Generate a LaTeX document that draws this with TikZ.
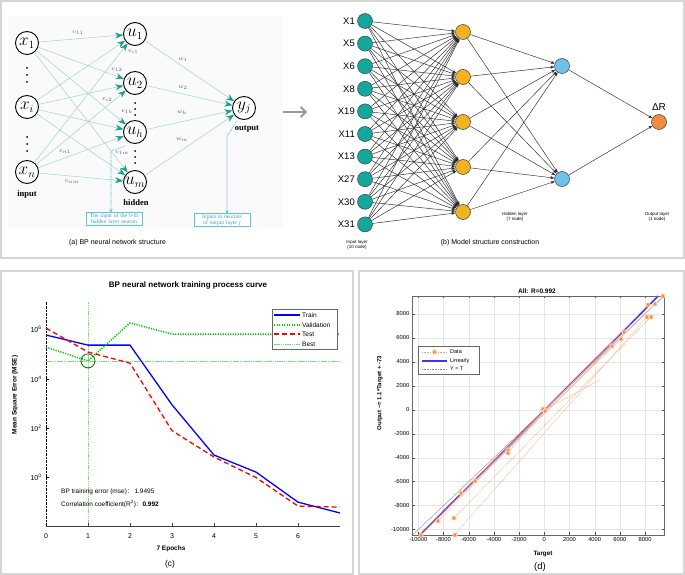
\documentclass[tikz,border=0pt]{standalone}
\usepackage{fontspec}
\setmainfont{Liberation Sans}
\newfontfamily\serifx{Liberation Serif}
\newfontfamily\cjkf{Noto Sans CJK SC}
\usetikzlibrary{arrows.meta}
\newcommand\fsz[1]{\fontsize{#1}{#1}\selectfont}
\definecolor{tline}{HTML}{9DD6CA}
\definecolor{thead}{HTML}{13A08A}
\definecolor{callblue}{HTML}{3AAEE0}
\definecolor{bteal}{HTML}{14A89C}
\definecolor{byellow}{HTML}{F2B322}
\definecolor{bblue}{HTML}{6EC1E8}
\definecolor{borange}{HTML}{F08C3C}
\definecolor{mblue}{HTML}{0000FF}
\definecolor{mred}{HTML}{FF0000}
\definecolor{mgreen}{HTML}{00CC00}
\definecolor{bestg}{HTML}{7ADB7A}
\definecolor{dgreen}{HTML}{117711}
\definecolor{dorange}{HTML}{F47C3C}
\definecolor{linblue}{HTML}{4A33F0}
\definecolor{framec}{HTML}{D6D6D6}
\begin{document}
\begin{tikzpicture}[x=1pt,y=-1pt,
  frame/.style={draw=framec,line width=1.2pt},
  acirc/.style={circle,draw,line width=0.9pt,fill=white,minimum size=23pt,inner sep=0pt,font=\fsz{16}},
  aedge/.style={draw=tline,line width=0.5pt,-{Stealth[length=8pt,width=6pt,color=thead]}},
  vlab/.style={font=\fsz{6.5},text=black!65,inner sep=0.5pt},
  albl/.style={font=\serifx\bfseries\fsz{8.5}},
  callout/.style={draw=callblue,line width=0.6pt,dash pattern=on 0.8pt off 0.8pt,-{Stealth[length=3pt,width=3pt]}},
  calbox/.style={draw=callblue!80,line width=0.4pt,text=callblue!90!black,font=\serifx\fsz{5.6},align=center,inner sep=1.2pt,fill=white,text width=53pt},
  bnode/.style={circle,draw=black!75,line width=0.5pt,minimum size=15pt,inner sep=0pt},
  bedge/.style={draw=black!85,line width=0.45pt,-{Stealth[length=4pt,width=3pt]}},
  blab/.style={font=\fsz{9.5},anchor=east,inner sep=0pt},
  lyrlab/.style={font=\fsz{4.5},align=center,inner sep=0pt},
  capt/.style={font=\fsz{7},inner sep=0pt},
  ctick/.style={font=\fsz{7},inner sep=0pt},
  trainln/.style={draw=mblue,line width=1.3pt},
  testln/.style={draw=mred,line width=1.3pt,dash pattern=on 5pt off 3pt},
  valln/.style={draw=mgreen,line width=1.5pt,dash pattern=on 1.2pt off 1.3pt},
  bestln/.style={draw=bestg,line width=0.45pt,dash pattern=on 1.5pt off 0.7pt},
  clegt/.style={font=\fsz{6.5},anchor=west,inner sep=0pt},
  gridc/.style={draw=black!10,line width=0.4pt},
  tickc/.style={draw=black!70,line width=0.4pt},
  dtick/.style={font=\fsz{5.8},inner sep=0pt},
  dlegt/.style={font=\fsz{5.5},anchor=west,inner sep=0pt},
  ast/.pic={\fill[orange!25] (0,0) circle (2.6pt);
    \draw[dorange,line width=0.5pt] (-2.3pt,0) -- (2.3pt,0) (-1.2pt,-2pt) -- (1.2pt,2pt) (-1.2pt,2pt) -- (1.2pt,-2pt);}
]
\useasboundingbox (0,0) rectangle (685,575);
% ---------- frames
\draw[frame] (1,1) rectangle (684,258);
\draw[frame] (1,271) rectangle (353,574);
\draw[frame] (359,271) rectangle (684,574);

% ================= panel (a)
\fill[black!2] (8,16) rectangle (283,228);
\node[acirc] (x1) at (27,43) {$x_1$};
\node[acirc] (xi) at (27,107) {$x_i$};
\node[acirc] (xn) at (27,172) {$x_n$};
\node[acirc] (u1) at (135,34) {$u_1$};
\node[acirc] (u2) at (135,83) {$u_2$};
\node[acirc] (uh) at (135,132) {$u_h$};
\node[acirc] (um) at (135,182) {$u_m$};
\node[acirc] (yj) at (244,108) {$y_j$};
\foreach \a in {x1,xi,xn} \foreach \b in {u1,u2,uh,um} \draw[aedge] (\a) -- (\b);
\foreach \b in {u1,u2,uh,um} \draw[aedge] (\b) -- (yj);
\foreach \yy in {68,75,82,137,144,151} \fill (27,\yy) circle (1pt);
\foreach \yy in {103,109,115,151,157,163} \fill (135,\yy) circle (1pt);
\node[vlab] (lv11) at (78,33) {$v_{11}$};
\node[vlab] (lvi1) at (133,52) {$v_{i1}$};
\node[vlab] (lv12) at (117,70) {$v_{12}$};
\node[vlab] (lvi2) at (107,100) {$v_{i2}$};
\node[vlab] (lv1h) at (127,112) {$v_{1h}$};
\node[vlab] (lvn1) at (65,152) {$v_{n1}$};
\node[vlab] (lv1m) at (122,153) {$v_{1m}$};
\node[vlab] (lvnm) at (72,182) {$v_{nm}$};
\node[vlab] (lw1) at (183,60) {$w_1$};
\node[vlab] (lw2) at (183,88) {$w_2$};
\node[vlab] (lwh) at (182,113) {$w_h$};
\node[vlab] (lwm) at (182,140) {$w_m$};
\node[albl] (tin) at (27,194) {input};
\node[albl] (thid) at (136,203) {hidden};
\node[albl] (tout) at (247,129) {output};
\node[calbox] (cb1) at (114,219) {The input of the \textit{h}-th\\hidden layer neuron};
\node[calbox] (cb2) at (222,220) {Inputs to neurons\\of output layer \textit{j}};
\coordinate (c1s) at (125,146);
\coordinate (c1b) at (111,151);
\draw[callout] (c1s) -- (c1b) -- (cb1.north -| c1b);
\coordinate (c2s) at (237,121);
\coordinate (c2b) at (227,136);
\draw[callout] (c2s) -- (c2b) -- (cb2.north -| c2b);
\node[capt] (capa) at (117.5,243) {(a) BP neural network structure};
\coordinate (ga1) at (283,112);
\coordinate (ga2) at (307,112);
\draw[line width=1.8pt,black!40,-{Straight Barb[length=5pt,width=10pt]}] (ga1) -- (ga2);

% ================= panel (b)
\foreach \n [count=\i from 0] in {X1,X5,X6,X8,X19,X11,X13,X27,X30,X31} {
  \node[bnode,fill=bteal] (in\i) at (365,{21+\i*22.6}) {};
  \node[blab] (lin\i) at (355,{21+\i*22.6}) {\n};
}
\foreach \k in {0,...,4} \node[bnode,fill=byellow] (h\k) at (463,{32+45*\k}) {};
\node[bnode,fill=bblue] (b0) at (562,66) {};
\node[bnode,fill=bblue] (b1) at (562,179) {};
\node[bnode,fill=borange] (o) at (659,122) {};
\node[font=\fsz{10},inner sep=0pt] (dr) at (659,107) {ΔR};
\foreach \i in {0,...,9} \foreach \k in {0,...,4} \draw[bedge] (in\i) -- (h\k);
\foreach \k in {0,...,4} \foreach \j in {0,1} \draw[bedge] (h\k) -- (b\j);
\draw[bedge] (b0) -- (o);
\draw[bedge] (b1) -- (o);
\node[lyrlab] (til) at (357,245) {Input layer\\(10 node)};
\node[lyrlab] (thl) at (515,217) {Hidden layer\\(7 node)};
\node[lyrlab] (tol) at (657,217) {Output layer\\(1 node)};
\node[capt] (capb) at (490,243) {(b) Model structure construction};

% ================= panel (c)
\node[font=\bfseries\fsz{8},inner sep=0pt] (ct) at (188,285) {BP neural network training process curve};
\begin{scope}[shift={(46,477.5)},x=42pt,y=24.65pt]
  \draw[bestln] (1,-1.97) -- (1,7.12);
  \draw[bestln] (0,4.73) -- (7,4.73);
  \draw[black!75,line width=0.5pt] (0,-1.97) -- (7,-1.97);
  \foreach \e in {0,...,6} {
    \draw[black!75,line width=0.5pt] (\e,-1.97) -- ++(0,3pt);
    \node[ctick] (xt\e) at (\e,-2.37) {\e};
  }
  \draw[black,line width=0.6pt,dash pattern=on 0.7pt off 0.7pt] (0,-1.97) -- (0,7.12);
  \foreach \p in {0,2,4,6} {
    \draw[black,line width=0.5pt] (0,\p) -- ++(3pt,0);
    \node[ctick,anchor=east] (yt\p) at (-0.1,\p) {10\textsuperscript{\p}};
  }
  \draw[trainln] (0,5.78) -- (1,5.37) -- (2,5.37) -- (3,2.95) -- (4,0.91) -- (5,0.22) -- (6,-1.0) -- (7,-1.44);
  \draw[valln] (0,5.29) -- (1,4.73) -- (2,6.27) -- (3,5.82) -- (7,5.82);
  \draw[testln] (0,6.06) -- (1,5.09) -- (2,4.64) -- (3,1.9) -- (4,0.83) -- (5,0.0) -- (6,-1.16) -- (7,-1.2);
  \draw[dgreen,line width=0.9pt] (1,4.73) circle[radius=7pt];
\end{scope}
\node[draw=black!60,fill=white,line width=0.4pt,minimum width=65pt,minimum height=40pt,inner sep=0pt] (cleg) at (304.5,329) {};
\draw[trainln] (274,315) -- (300,315);
\draw[valln] (274,325) -- (300,325);
\draw[testln] (274,334) -- (300,334);
\draw[bestln] (274,344) -- (300,344);
\node[clegt] (cl1) at (302,315) {Train};
\node[clegt] (cl2) at (302,325) {Validation};
\node[clegt] (cl3) at (302,334) {Test};
\node[clegt] (cl4) at (302,344) {Best};
\node[clegt] (ann1) at (61,492) {BP training error (mse){\cjkf ：}\,1.9495};
\node[clegt] (ann2) at (61,504) {Correlation coefficient(R\textsuperscript{2}){\cjkf ：}\textbf{0.992}};
\node[font=\bfseries\fsz{6.5},inner sep=0pt] (cxl) at (171,549) {7 Epochs};
\node[font=\fsz{8.5},inner sep=0pt] (capc) at (170,564) {(c)};
\node[font=\bfseries\fsz{6.5},inner sep=0pt,rotate=90] (cyl) at (15,395) {Mean Square Error (MSE)};

% ================= panel (d)
\node[font=\bfseries\fsz{6.5},inner sep=0pt] (dt) at (537,291) {All: R=0.992};
\begin{scope}[shift={(544.3,409.8)},x=12.6pt,y=11.98pt]
  \foreach \v in {-10,-8,...,8} {
    \draw[gridc] (\v,-10.45) -- (\v,9.5);
    \draw[gridc] (-10.5,\v) -- (9.5,\v);
  }
  \foreach \v [count=\c] in {-10,-8,...,8} {
    \draw[tickc] (\v,-10.45) -- ++(0,2.5pt);
    \draw[tickc] (\v,9.5) -- ++(0,-2.5pt);
    \draw[tickc] (-10.5,\v) -- ++(2.5pt,0);
    \draw[tickc] (9.5,\v) -- ++(-2.5pt,0);
    \pgfmathtruncatemacro{\lab}{\v*1000}
    \node[dtick,anchor=north] (dx\c) at ([yshift=-2.5pt]\v,-10.45) {\lab};
    \node[dtick,anchor=east] (dy\c) at ([xshift=-2.5pt]-10.5,\v) {\lab};
  }
  \draw[black!45,line width=0.4pt] (-10.45,-10.45) -- (9.5,9.5);
  \draw[linblue,line width=1.6pt] (-9.87,-10.45) -- (9.05,9.5);
  \draw[dorange,line width=1.4pt,opacity=0.35] (-9.87,-10.45) -- (5.5,5.75);
\end{scope}
\begin{scope}
  \clip (412,296) rectangle (664,535);
  \begin{scope}[draw=dorange!60,line width=0.3pt]
    \draw (421,535) -- (663,296);
    \draw (438,521) -- (648,305);
    \draw (455,534) -- (647,317);
    \draw (454,518) -- (651,317);
    \draw (461,493) -- (624,332);
    \draw (475,481) -- (621,339);
    \draw (508,450) -- (612,346);
    \draw (508,453) -- (544,410);
    \draw (544,410) -- (655,304);
    \draw (508,450) -- (475,481);
    \draw (544,410) -- (600,380);
  \end{scope}
\end{scope}
\draw[black!60,line width=0.5pt] (412,296) rectangle (664,535);
\foreach \px/\py in {663/296,648/305,655/304,647/317,651/317,624/332,621/339,612/346,544/410,543/409,545/411,508/450,508/453,475/481,461/493,438/521,454/518,455/535,421/535} \pic at (\px,\py) {ast};
\node[draw=black!60,fill=white,line width=0.4pt,minimum width=61pt,minimum height=28pt,inner sep=0pt] (dleg) at (448.5,360) {};
\draw[dorange!70,line width=0.4pt,dash pattern=on 0.8pt off 0.8pt] (422,352) -- (447,352);
\pic at (434.5,352) {ast};
\draw[linblue,line width=1.6pt] (422,361) -- (447,361);
\draw[black!45,line width=0.4pt,dash pattern=on 0.8pt off 0.8pt] (422,369) -- (447,369);
\node[dlegt] (dl1) at (450,352) {Data};
\node[dlegt] (dl2) at (450,361) {Linearly};
\node[dlegt] (dl3) at (450,369) {Y = T};
\node[font=\bfseries\fsz{6.3},inner sep=0pt] (dxl) at (543,554) {Target};
\node[font=\fsz{9.5},inner sep=0pt] (capd) at (540,567) {(d)};
\node[font=\bfseries\fsz{6},inner sep=0pt,rotate=90] (dyl) at (380,393) {Output {\textasciitilde}= 1.1*Target + -73};
\end{tikzpicture}
\end{document}
